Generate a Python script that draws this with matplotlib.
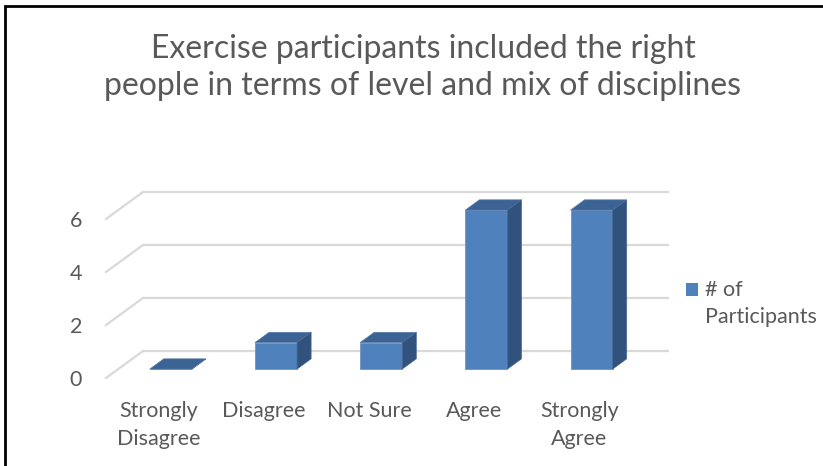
# 3D-style column chart (Excel look) drawn in 2D with matplotlib

import matplotlib.pyplot as plt
from matplotlib.patches import Polygon, Rectangle

categories = ["Strongly\nDisagree", "Disagree", "Not Sure", "Agree", "Strongly\nAgree"]
participants = [0, 1, 1, 6, 6]
y_ticks = [0, 2, 4, 6]
series_name = ["# of", "Participants"]
title = ["Exercise participants included the right",
         "people in terms of level and mix of disciplines"]

FONT = "Lato"
TXT = "#595959"
FRONT = "#4f81bd"
TOP = "#3b6393"
SIDE = "#31527c"
GRID = "#d9d9d9"

W, H = 823, 466
fig = plt.figure(figsize=(W / 100, H / 100), dpi=100)

# pixel layout of the plot "box"
X0, XS = 158.6, 105.2     # px of first category (front plane), px per category
Y0, YS = 378.0, 26.5      # px of value 0 (front plane), px per unit
DX, DY = 37.0, 27.0       # depth offset of the back wall in px
kx, ky = DX / XS, DY / YS  # depth offset in data units

left, right, top, bottom = 90, 700, 180, 392
ax = fig.add_axes([left / W, (H - bottom) / H, (right - left) / W, (bottom - top) / H])
ax.set_xlim((left - X0) / XS, (right - X0) / XS)
ax.set_ylim((Y0 - bottom) / YS, (Y0 - top) / YS)
for s in ax.spines.values():
    s.set_visible(False)

# gridlines: back wall plus diagonal on the side wall
x_lo, x_hi = -0.5, len(categories) - 0.5
for v in y_ticks:
    ax.plot([x_lo + kx, x_hi + kx], [v + ky, v + ky], color=GRID, lw=1.6, zorder=1,
            solid_capstyle="butt")
    ax.plot([x_lo, x_lo + kx], [v, v + ky], color=GRID, lw=1.6, zorder=1)

# bars sit between depth z0 and z1
z0, z1 = 0.33, 0.71
bw = 0.40
xs = [i + kx * z0 for i in range(len(categories))]
ax.bar(xs, participants, width=bw, bottom=ky * z0, color=FRONT,
       edgecolor="#6f93c6", lw=0.6, zorder=3)
dz = z1 - z0
for x, v in zip(xs, participants):
    xl, xr = x - bw / 2, x + bw / 2
    yb, yt = ky * z0, v + ky * z0
    top_face = [(xl, yt), (xr, yt), (xr + kx * dz, yt + ky * dz), (xl + kx * dz, yt + ky * dz)]
    side_face = [(xr, yb), (xr + kx * dz, yb + ky * dz), (xr + kx * dz, yt + ky * dz), (xr, yt)]
    ax.add_patch(Polygon(top_face, closed=True, fc=TOP, ec="#5579aa", lw=0.5, zorder=4))
    ax.add_patch(Polygon(side_face, closed=True, fc=SIDE, ec="#4a6a96", lw=0.5, zorder=4))

ax.set_xticks(range(len(categories)), categories)
ax.set_yticks(y_ticks, [str(t) for t in y_ticks])
ax.tick_params(length=0, colors=TXT, labelsize=15.5)
ax.tick_params(axis="x", pad=6.5)
ax.tick_params(axis="y", pad=5.8)
for lab in ax.get_xticklabels() + ax.get_yticklabels():
    lab.set_fontfamily(FONT)
for lab in ax.get_xticklabels():
    lab.set_linespacing(1.5)

# title, one line at a time on its baseline
for line, base in zip(title, [58, 95]):
    fig.text(423 / W, 1 - base / H, line, ha="center", va="baseline", fontsize=23,
             color=TXT, family=FONT)

# legend
fig.patches.append(Rectangle((686 / W, 1 - 296 / H), 12 / W, 13 / H, fc=FRONT,
                             transform=fig.transFigure, figure=fig))
for line, base in zip(series_name, [296, 323]):
    fig.text(705 / W, 1 - base / H, line, ha="left", va="baseline", fontsize=15.5,
             color=TXT, family=FONT)

# outer frame (right/bottom edges fall outside the picture)
fig.patches.append(Rectangle((5 / W, -0.05), 1.1, 1 - 6 / H + 0.05, fill=False,
                             ec="black", lw=2, transform=fig.transFigure, figure=fig))

fig.savefig("out.png", dpi=100)
